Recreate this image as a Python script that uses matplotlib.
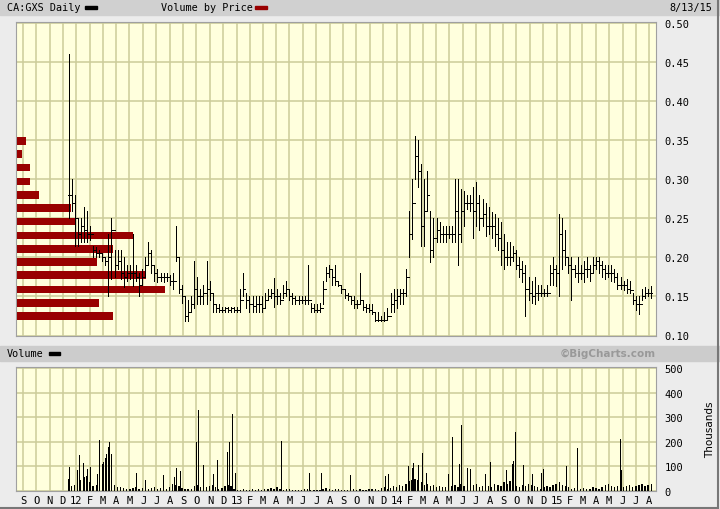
import numpy as np
import pandas as pd
import matplotlib
matplotlib.use('Agg')
import matplotlib.pyplot as plt
import matplotlib.dates as mdates
from matplotlib.patches import Rectangle

# weekly bars, first week starts 2011-12-14
week_start = '2011-12-14'

price_high = [
    .46, .30, .28, .25, .25, .265, .26, .24, .215, .213, .21, .205, .20, .23, .25, .21, .21, .21, .20, .19,
    .19, .23, .19, .18, .185, .20, .22, .21, .19, .185, .18, .18, .18, .178, .18, .24, .20, .165, .15, .146,
    .15, .195, .175, .16, .165, .195, .17, .155, .14, .14, .137, .137, .137, .137, .137, .137, .16, .18, .155, .15,
    .15, .15, .15, .15, .155, .16, .16, .174, .16, .155, .165, .17, .16, .155, .15, .15, .15, .15, .19, .142,
    .14, .14, .142, .17, .188, .19, .185, .19, .17, .165, .16, .155, .15, .15, .145, .18, .145, .14, .14, .14,
    .13, .13, .125, .13, .135, .155, .16, .16, .16, .16, .185, .26, .30, .355, .35, .32, .30, .31, .26, .25,
    .25, .245, .24, .24, .24, .24, .30, .30, .287, .285, .28, .28, .29, .296, .28, .275, .27, .265, .258, .255,
    .25, .245, .23, .22, .22, .215, .21, .20, .195, .19, .175, .17, .175, .165, .165, .16, .165, .19, .20, .19,
    .255, .25, .235, .20, .20, .19, .20, .19, .195, .20, .19, .20, .20, .20, .195, .19, .19, .19, .185, .18,
    .175, .17, .172, .17, .155, .15, .15, .16, .162, .16, .163]
price_low = [
    .25, .26, .215, .215, .22, .22, .22, .222, .20, .20, .20, .195, .19, .15, .172, .175, .185, .172, .162, .17,
    .172, .163, .17, .15, .165, .175, .19, .18, .17, .168, .17, .168, .17, .165, .16, .195, .155, .142, .118, .118,
    .13, .135, .14, .14, .14, .14, .145, .13, .13, .13, .13, .13, .13, .13, .13, .13, .13, .15, .135, .13,
    .13, .13, .13, .13, .135, .145, .148, .137, .14, .14, .148, .15, .145, .14, .14, .14, .142, .14, .14, .13,
    .13, .13, .13, .14, .17, .175, .165, .165, .163, .155, .148, .145, .14, .135, .135, .14, .133, .13, .13, .128,
    .118, .118, .118, .118, .12, .13, .13, .135, .14, .14, .15, .20, .223, .30, .29, .214, .215, .26, .194, .20,
    .22, .22, .22, .22, .225, .22, .22, .19, .22, .24, .262, .26, .225, .24, .235, .24, .227, .23, .225, .215,
    .21, .19, .185, .19, .19, .195, .185, .175, .168, .125, .145, .142, .14, .145, .15, .15, .15, .165, .165, .163,
    .15, .185, .19, .18, .145, .175, .168, .172, .168, .175, .17, .18, .185, .18, .175, .172, .175, .17, .168, .16,
    .16, .158, .155, .155, .14, .133, .128, .145, .148, .15, .148]
price_close = [
    .28, .27, .25, .23, .24, .235, .23, .23, .21, .205, .205, .20, .195, .20, .235, .19, .195, .18, .175, .18,
    .18, .18, .175, .165, .175, .19, .205, .19, .18, .175, .175, .175, .175, .17, .17, .20, .16, .15, .125, .13,
    .14, .16, .15, .15, .155, .16, .155, .14, .135, .133, .133, .135, .133, .135, .133, .133, .145, .16, .145, .14,
    .138, .14, .14, .135, .145, .15, .155, .15, .15, .145, .155, .16, .15, .148, .145, .145, .145, .145, .145, .135,
    .133, .133, .135, .16, .18, .185, .175, .17, .165, .16, .152, .15, .145, .14, .14, .145, .137, .135, .133, .13,
    .12, .12, .12, .12, .125, .14, .145, .15, .155, .155, .175, .23, .27, .33, .31, .24, .26, .28, .21, .225,
    .235, .23, .23, .23, .23, .23, .26, .23, .26, .27, .27, .27, .26, .27, .25, .255, .24, .24, .24, .23,
    .225, .21, .20, .20, .20, .205, .19, .185, .18, .16, .155, .15, .155, .155, .155, .155, .155, .18, .185, .18,
    .23, .21, .20, .19, .185, .18, .18, .18, .185, .185, .18, .19, .195, .19, .185, .18, .18, .18, .175, .165,
    .165, .165, .16, .158, .145, .14, .14, .15, .155, .155, .155]

# typical daily volume per week, thousands
vol_base = [
    50, 20, 25, 60, 45, 55, 60, 35, 20, 25, 30, 70, 95, 110, 50, 25, 15, 18, 12, 10,
    8, 12, 15, 10, 12, 18, 10, 12, 15, 10, 12, 15, 10, 18, 30, 25, 20, 12, 8, 10,
    8, 20, 25, 15, 20, 15, 20, 25, 15, 10, 12, 20, 25, 20, 8, 5, 5, 8, 5, 6,
    8, 5, 10, 6, 8, 10, 12, 8, 15, 10, 6, 10, 8, 5, 4, 6, 5, 8, 10, 5,
    4, 5, 6, 10, 12, 8, 6, 10, 8, 5, 4, 6, 5, 8, 4, 10, 6, 5, 8, 10,
    8, 6, 12, 15, 10, 12, 20, 15, 25, 20, 30, 40, 45, 50, 45, 35, 25, 30, 20, 25,
    15, 20, 15, 18, 12, 20, 25, 15, 30, 20, 15, 18, 25, 30, 15, 20, 25, 20, 15, 30,
    25, 20, 35, 30, 40, 25, 20, 15, 25, 20, 30, 25, 20, 15, 10, 15, 20, 15, 25, 30,
    35, 25, 20, 15, 10, 12, 8, 10, 12, 8, 10, 15, 12, 10, 15, 25, 30, 20, 15, 20,
    25, 15, 20, 25, 15, 20, 25, 30, 20, 25, 30]

# single heavy days
spike_dates = [
    '2011-12-15', '2012-01-03', '2012-01-06', '2012-01-16', '2012-01-24', '2012-01-31', '2012-02-17', '2012-02-21',
    '2012-02-29', '2012-03-02', '2012-03-06', '2012-03-08', '2012-03-12', '2012-03-14', '2012-03-15', '2012-03-16',
    '2012-03-19', '2012-03-21', '2012-05-15', '2012-06-05', '2012-07-16', '2012-08-10', '2012-08-16', '2012-08-24',
    '2012-10-01', '2012-10-04', '2012-10-15', '2012-11-07', '2012-11-16', '2012-12-10', '2012-12-14', '2012-12-20',
    '2012-12-28', '2013-04-12', '2013-06-14', '2013-07-12', '2013-09-17', '2013-12-06', '2013-12-12', '2014-01-28',
    '2014-02-05', '2014-02-07', '2014-02-18', '2014-02-28', '2014-03-10', '2014-04-28', '2014-05-07', '2014-05-23',
    '2014-05-27', '2014-06-11', '2014-06-18', '2014-07-22', '2014-08-01', '2014-09-08', '2014-09-22', '2014-09-24',
    '2014-09-29', '2014-10-17', '2014-11-07', '2014-11-26', '2014-12-01', '2015-01-23', '2015-02-17', '2015-05-26',
    '2015-05-28']
spike_vals = [
    96, 85, 146, 112, 88, 96, 70, 207,
    110, 120, 135, 150, 165, 180, 198, 185,
    150, 122, 75, 45, 64, 58, 93, 82,
    198, 330, 105, 71, 125, 158, 200, 313,
    75, 203, 75, 72, 65, 61, 70, 100,
    93, 116, 105, 153, 72, 68, 220, 109,
    269, 93, 88, 70, 117, 85, 109, 122,
    241, 105, 68, 75, 91, 102, 177, 211,
    85]

# volume by price
vbp_levels = [.125, .142, .159, .177, .194, .211, .228, .246, .263, .280, .297, .315, .332, .349]
vbp_volume = [9.6, 8.2, 14.8, 12.9, 8.0, 9.6, 11.6, 5.9, 5.4, 2.2, 1.3, 1.3, 0.5, 0.9]

month_labels = ['S', 'O', 'N', 'D',
                '12', 'F', 'M', 'A', 'M', 'J', 'J', 'A', 'S', 'O', 'N', 'D',
                '13', 'F', 'M', 'A', 'M', 'J', 'J', 'A', 'S', 'O', 'N', 'D',
                '14', 'F', 'M', 'A', 'M', 'J', 'J', 'A', 'S', 'O', 'N', 'D',
                '15', 'F', 'M', 'A', 'M', 'J', 'J', 'A']

W, H = 720, 510
yellow = '#ffffdd'
gridc = '#cccc99'
mono = 'DejaVu Sans Mono'
px = 0.72  # one pixel in points

weeks = pd.date_range(week_start, periods=len(price_close), freq='7D')
months = pd.date_range('2011-09-01', periods=len(month_labels), freq='MS')
x0, x1 = pd.Timestamp('2011-08-16'), pd.Timestamp('2015-08-16')

fig = plt.figure(figsize=(W / 100, H / 100), dpi=100, facecolor='#ececec')

def fbox(l, t, r, b):
    return [l / W, 1 - b / H, (r - l) / W, (b - t) / H]

# header bars
fig.patches.append(Rectangle((0, 1 - 16 / H), 1, 16 / H, transform=fig.transFigure, color='#d0d0d0', zorder=0))
fig.patches.append(Rectangle((0, 1 - 362 / H), 1, 15 / H, transform=fig.transFigure, color='#cccccc', zorder=0))
fig.text(7 / W, 1 - 8 / H, 'CA:GXS Daily', family=mono, fontsize=7.3, va='center')
fig.patches.append(Rectangle((85 / W, 1 - 9.5 / H), 12 / W, 3 / H, transform=fig.transFigure, color='black'))
fig.text(161 / W, 1 - 8 / H, 'Volume by Price', family=mono, fontsize=7.3, va='center')
fig.patches.append(Rectangle((255 / W, 1 - 9.5 / H), 12 / W, 3 / H, transform=fig.transFigure, color='#990000'))
fig.text(712 / W, 1 - 8 / H, '8/13/15', family=mono, fontsize=7.3, va='center', ha='right')
fig.text(7 / W, 1 - 354 / H, 'Volume', family=mono, fontsize=7.3, va='center')
fig.patches.append(Rectangle((49 / W, 1 - 355.5 / H), 11 / W, 3 / H, transform=fig.transFigure, color='black'))
fig.text(656 / W, 1 - 354 / H, '\u00a9BigCharts.com', fontsize=7.5, weight='bold', color='#999999',
         va='center', ha='right')

# outer frame
fig.add_artist(plt.Line2D([717.5 / W, 717.5 / W], [1.5 / H, 1], transform=fig.transFigure, color='#777777', lw=1.5))
fig.add_artist(plt.Line2D([0, 718 / W], [1.5 / H, 1.5 / H], transform=fig.transFigure, color='#777777', lw=1.5))

# price panel: background/grid, volume by price, price bars
pos = fbox(16, 22.5, 656, 336.5)
axg = fig.add_axes(pos)
axg.set_facecolor(yellow)
axg.set_xlim(x0, x1)
axg.set_ylim(0.10, 0.502)
axg.set_xticks(months)
axg.set_xticklabels([])
axg.set_yticks(np.arange(0.10, 0.501, 0.05))
axg.set_yticklabels(['%.2f' % v for v in np.arange(0.10, 0.501, 0.05)], family=mono, fontsize=7.5)
axg.yaxis.tick_right()
axg.tick_params(length=0, pad=6)
axg.grid(True, color=gridc, lw=1.1)
for s in axg.spines.values():
    s.set_color('#a0a0a0')

axb = fig.add_axes(pos)
axb.patch.set_visible(False)
axb.barh(vbp_levels, vbp_volume, height=0.0099, left=0, color='#990000')
axb.set_xlim(-0.1, 64)
axb.set_ylim(0.10, 0.502)
axb.axis('off')

ax = fig.add_axes(pos)
ax.patch.set_visible(False)
ax.set_xlim(x0, x1)
ax.set_ylim(0.10, 0.502)
ax.axis('off')
price_open = [price_close[0]] + price_close[:-1]
ax.vlines(weeks, price_low, price_high, color='black', lw=px, antialiased=False)
ax.hlines(price_open, weeks - pd.Timedelta(days=2), weeks, color='black', lw=px, antialiased=False)
ax.hlines(price_close, weeks, weeks + pd.Timedelta(days=3), color='black', lw=px, antialiased=False)

# volume panel
axv = fig.add_axes(fbox(16, 368, 656, 492))
axv.set_facecolor(yellow)
axv.set_xlim(x0, x1)
axv.set_ylim(0, 505)
axv.bar(weeks, vol_base, width=3, color='black', align='center', antialiased=False)
axv.vlines(pd.to_datetime(spike_dates), 0, spike_vals, color='black', lw=px, antialiased=False)
axv.set_xticks(months)
axv.set_xticklabels(month_labels, family=mono, fontsize=7.5)
axv.set_yticks([0, 100, 200, 300, 400, 500])
axv.set_yticklabels(['0', '100', '200', '300', '400', '500'], family=mono, fontsize=7.5)
axv.yaxis.tick_right()
axv.tick_params(length=0, pad=6)
axv.tick_params(axis='x', pad=3)
axv.grid(True, color=gridc, lw=1.1)
axv.set_axisbelow(True)
for s in axv.spines.values():
    s.set_color('#a0a0a0')
fig.text(710 / W, 1 - 430 / H, 'Thousands', rotation=90, fontsize=7.5, va='center', ha='center')

fig.savefig('out.png', dpi=100, facecolor=fig.get_facecolor())
